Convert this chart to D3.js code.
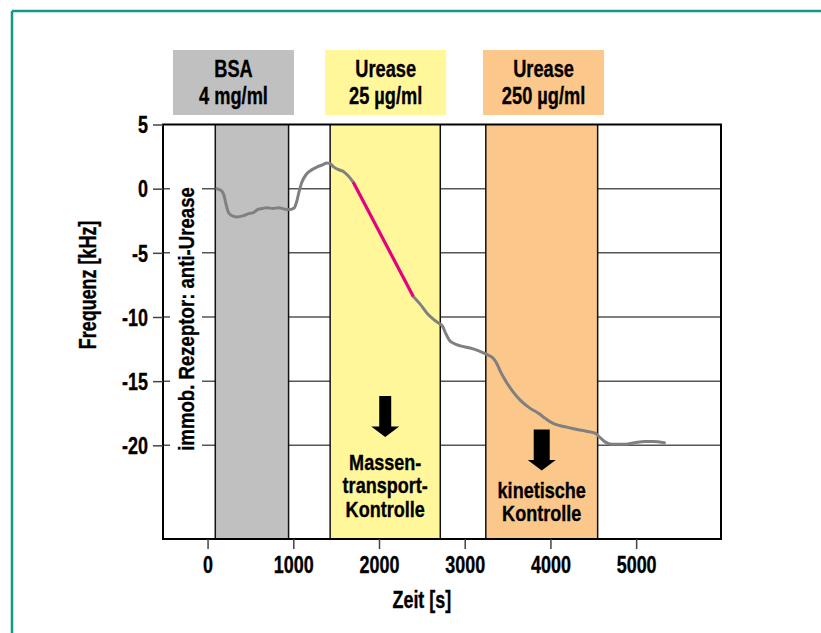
<!DOCTYPE html>
<html>
<head>
<meta charset="utf-8">
<script src="https://cdn.jsdelivr.net/npm/d3@7"></script>
<style>
  html, body { margin: 0; padding: 0; background: #fff; }
  svg { display: block; }
  text { font-family: "Liberation Sans", Arial, sans-serif; font-weight: bold; fill: #000; stroke: #000; stroke-width: 0.35px; }
</style>
</head>
<body>
<script>
// ---------------- data ----------------
const timeS = [108, 160, 190, 215, 240, 270, 340, 420, 480, 540, 590, 640, 690, 760, 830, 900, 960, 1010, 1040, 1065, 1100, 1150, 1200, 1280, 1340, 1390, 1430, 1470, 1520, 1580, 1640, 1700,
  2400, 2480, 2560, 2640, 2700, 2740, 2780, 2820, 2870, 2950, 3050, 3150, 3250, 3330, 3380, 3420, 3480, 3560, 3650, 3760, 3860, 3940, 4020, 4100, 4200, 4300, 4420, 4520, 4580, 4640, 4720, 4850, 4980, 5100, 5200, 5330];
const freqKHz = [0, -0.15, -0.5, -1.2, -1.8, -2.05, -2.2, -2.1, -1.95, -1.85, -1.6, -1.55, -1.48, -1.55, -1.48, -1.6, -1.62, -1.5, -1.0, -0.3, 0.5, 1.1, 1.4, 1.7, 1.85, 2.0, 1.95, 1.7, 1.5, 1.35, 1.0, 0.5,
  -8.4, -9.0, -9.7, -10.2, -10.5, -10.7, -11.3, -11.8, -12.05, -12.25, -12.4, -12.6, -12.9, -13.2, -13.7, -14.3, -15.0, -15.8, -16.5, -17.1, -17.5, -17.9, -18.25, -18.45, -18.6, -18.75, -18.9, -19.05, -19.4, -19.75, -19.92, -19.92, -19.8, -19.7, -19.7, -19.8];

// linear (mass-transport controlled) segment
const linearT = [1700, 2400];
const linearF = [0.5, -8.4];

// injection phases
const phaseNames = ["BSA", "Urease", "Urease"];
const phaseConc = ["4 mg/ml", "25 \u00B5g/ml", "250 \u00B5g/ml"];
const phaseStart = [90, 1430, 3246];
const phaseEnd = [945, 2715, 4551];
const phaseLabelT = [302, 2078, 3920];
const phaseColors = ["#c0c0c0", "#fff79a", "#fbc78a"];

const xTicks = [0, 1000, 2000, 3000, 4000, 5000];
const yTicks = [5, 0, -5, -10, -15, -20];
const gridValues = [0, -5, -10, -15, -20];

const controlLines = [["Massen-", "transport-", "Kontrolle"], ["kinetische", "Kontrolle"]];
const controlPhase = [1, 2];

// ---------------- layout ----------------
const W = 821, H = 633;
const plot = { left: 163, right: 721, top: 124.5, bottom: 539 };
const SX = 0.78; // horizontal condensing of the font
const FS = 23;

const svg = d3.select("body").append("svg").attr("width", W).attr("height", H);

const x = d3.scaleLinear().domain([-520, 5990]).range([plot.left, plot.right]);
const y = d3.scaleLinear().domain([-27.3, 5]).range([plot.bottom, plot.top]);

function label(parent, px, py, str, size, rot, sx) {
  return parent.append("text")
    .attr("transform", `translate(${px},${py})${rot ? " rotate(" + rot + ")" : ""} scale(${sx || SX},1)`)
    .attr("text-anchor", "middle")
    .attr("font-size", size)
    .text(str);
}

// teal frame
svg.append("line").attr("x1", 12).attr("x2", W).attr("y1", 11).attr("y2", 11).attr("stroke", "#14968a").attr("stroke-width", 2.5);
svg.append("line").attr("x1", 12).attr("x2", 12).attr("y1", 11).attr("y2", H).attr("stroke", "#14968a").attr("stroke-width", 2.5);

// gridlines
svg.append("g").selectAll("line").data(gridValues).join("line")
  .attr("x1", plot.left).attr("x2", plot.right)
  .attr("y1", d => y(d)).attr("y2", d => y(d))
  .attr("stroke", "#555").attr("stroke-width", 1.5);

// phase bands
const bands = svg.append("g");
phaseStart.forEach((s, i) => {
  bands.append("rect")
    .attr("x", x(s)).attr("y", plot.top)
    .attr("width", x(phaseEnd[i]) - x(s)).attr("height", plot.bottom - plot.top)
    .attr("fill", phaseColors[i]);
  [s, phaseEnd[i]].forEach(v => {
    bands.append("line").attr("x1", x(v)).attr("x2", x(v))
      .attr("y1", plot.top).attr("y2", plot.bottom)
      .attr("stroke", "#111").attr("stroke-width", 1.5);
  });
});

// white background behind rotated receptor label
svg.append("rect").attr("x", 170).attr("y", 183).attr("width", 32).attr("height", 274).attr("fill", "#fff");
label(svg, 194, (y(0) + y(-20)) / 2 + 2, "immob. Rezeptor: anti-Urease", FS, -90, 0.81);

// frame
svg.append("rect").attr("x", plot.left).attr("y", plot.top)
  .attr("width", plot.right - plot.left).attr("height", plot.bottom - plot.top)
  .attr("fill", "none").attr("stroke", "#000").attr("stroke-width", 2);

// axes
const fmt = d => String(d);
const yAxis = d3.axisLeft(y).tickValues(yTicks).tickSize(10).tickPadding(5).tickFormat(fmt);
const gy = svg.append("g").attr("transform", `translate(${plot.left},0)`).call(yAxis);
gy.select(".domain").remove();
gy.selectAll(".tick line").attr("stroke", "#444").attr("stroke-width", 1.5);
gy.selectAll(".tick text").attr("font-size", FS).attr("font-family", null).attr("dy", "0.36em")
  .attr("transform", function () { const tx = +this.getAttribute("x"); return `translate(${tx},0) scale(${SX},1)`; })
  .attr("x", 0);

const xAxis = d3.axisBottom(x).tickValues(xTicks).tickSize(10).tickPadding(6).tickFormat(fmt);
const gx = svg.append("g").attr("transform", `translate(0,${plot.bottom})`).call(xAxis);
gx.select(".domain").remove();
gx.selectAll(".tick line").attr("stroke", "#444").attr("stroke-width", 1.5);
gx.selectAll(".tick text").attr("font-size", FS).attr("font-family", null).attr("dy", "0.8em")
  .attr("transform", `scale(${SX},1)`);

// axis titles
label(svg, x(2500), 608, "Zeit [s]", FS);
label(svg, 96, (y(5) + y(-20)) / 2, "Frequenz [kHz]", FS, -90);

// phase label boxes
const boxW = 121, boxTop = 50, boxH = 65;
phaseNames.forEach((n, i) => {
  const cx = x(phaseLabelT[i]);
  svg.append("rect").attr("x", cx - boxW / 2).attr("y", boxTop).attr("width", boxW).attr("height", boxH).attr("fill", phaseColors[i]);
  label(svg, cx, 77, n, 24, 0, 0.76);
  label(svg, cx, 104, phaseConc[i], 24, 0, 0.76);
});

// curve: gray before and after the linear (pink) segment
const line = d3.line().x(d => x(d[0])).y(d => y(d[1])).curve(d3.curveMonotoneX);
const pts = timeS.map((t, i) => [t, freqKHz[i]]);
const before = pts.filter(d => d[0] <= linearT[0]);
const after = pts.filter(d => d[0] >= linearT[1]);
[before, after].forEach(seg => {
  svg.append("path").attr("d", line(seg)).attr("fill", "none").attr("stroke", "#808080")
    .attr("stroke-width", 3).attr("stroke-linejoin", "round").attr("stroke-linecap", "round");
});
svg.append("path").attr("d", d3.line().x(d => x(d[0])).y(d => y(d[1]))(linearT.map((t, i) => [t, linearF[i]])))
  .attr("fill", "none").attr("stroke", "#e5007d").attr("stroke-width", 3.2);

// control arrows + labels
const arrowSpec = [{ top: 396, shaft: 12, headTop: 426.5, tip: 437, text0: 470 }, { top: 429.5, shaft: 16, headTop: 460, tip: 470.5, text0: 497.5 }];
controlPhase.forEach((p, i) => {
  const cx = x((phaseStart[p] + phaseEnd[p]) / 2);
  const a = arrowSpec[i];
  const hw = 14, sw = a.shaft / 2;
  svg.append("path").attr("d",
    `M${cx - sw},${a.top} L${cx + sw},${a.top} L${cx + sw},${a.headTop} L${cx + hw},${a.headTop} L${cx},${a.tip} L${cx - hw},${a.headTop} L${cx - sw},${a.headTop} Z`)
    .attr("fill", "#000");
  controlLines[i].forEach((s, k) => {
    label(svg, cx, a.text0 + k * 23.3, s, 21.5, 0, 0.84);
  });
});
</script>
</body>
</html>
